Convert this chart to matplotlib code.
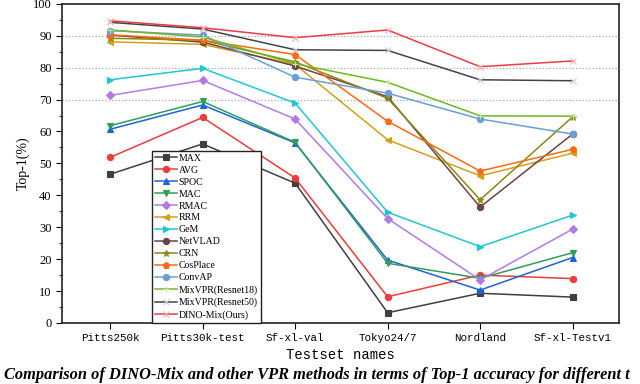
import numpy as np
import matplotlib
matplotlib.use('Agg')
import matplotlib.pyplot as plt

# Testsets and Top-1 accuracy per method
testsets = ['Pitts250k', 'Pitts30k-test', 'Sf-xl-val', 'Tokyo24/7', 'Nordland', 'Sf-xl-Testv1']

max_vals = [46.6, 56.1, 43.8, 3.2, 9.3, 8.1]
avg_vals = [51.9, 64.4, 45.4, 8.2, 15.0, 13.9]
spoc_vals = [60.7, 68.3, 56.4, 19.7, 10.3, 20.5]
mac_vals = [61.8, 69.4, 56.6, 18.7, 14.0, 22.0]
rmac_vals = [71.3, 76.0, 63.9, 32.7, 13.5, 29.4]
rrm_vals = [88.1, 87.3, 81.0, 57.4, 46.1, 53.2]
gem_vals = [76.2, 79.8, 68.9, 34.7, 23.9, 33.8]
netvlad_vals = [90.2, 88.0, 80.5, 70.9, 36.3, 59.2]
crn_vals = [89.2, 88.6, 81.8, 70.4, 38.6, 64.6]
cosplace_vals = [90.3, 88.6, 84.1, 63.2, 47.6, 54.4]
convap_vals = [91.6, 90.2, 77.0, 72.0, 63.9, 59.2]
mixvpr18_vals = [91.8, 89.6, 81.2, 75.4, 64.9, 64.8]
mixvpr50_vals = [94.2, 92.1, 85.6, 85.4, 76.2, 75.9]
dinomix_vals = [94.7, 92.5, 89.4, 91.8, 80.3, 82.1]

methods = ['MAX', 'AVG', 'SPOC', 'MAC', 'RMAC', 'RRM', 'GeM', 'NetVLAD', 'CRN',
           'CosPlace', 'ConvAP', 'MixVPR(Resnet18)', 'MixVPR(Resnet50)', 'DINO-Mix(Ours)']
values = [max_vals, avg_vals, spoc_vals, mac_vals, rmac_vals, rrm_vals, gem_vals,
          netvlad_vals, crn_vals, cosplace_vals, convap_vals, mixvpr18_vals,
          mixvpr50_vals, dinomix_vals]
colors = ['#3f3f3f', '#ee3b3b', '#1f63d9', '#2e9e5b', '#b27ae6', '#d4a017', '#1ec8d2',
          '#6e4242', '#8a8a10', '#ff6a10', '#6a9fd6', '#6cba1c', '#444444', '#ec3c44']
markers = ['s', 'o', '^', 'v', 'D', '<', '>', 'o', '*', 'p', 'o', '+', 'x', 'x']
marker_edge = [None] * 11 + ['#c8e6a0', '#cfcfcf', '#f4b0b4']

plt.rcParams['font.family'] = ['Liberation Serif', 'DejaVu Sans']

fig = plt.figure(figsize=(6.4, 3.84), dpi=100)
ax = fig.add_axes([0.097, 0.159, 0.870, 0.831])

x = np.arange(len(testsets))
for name, vals, c, m, me in zip(methods, values, colors, markers, marker_edge):
    ax.plot(x, vals, color=c, marker=m, markersize=4.5, linewidth=1.1,
            markeredgecolor=me if me else c, markerfacecolor=me if me else c,
            markeredgewidth=0.8, label=name)

for g in [70, 80, 90]:
    ax.axhline(g, color='#aaaaaa', linestyle=':', linewidth=0.9, zorder=0)

ax.set_xlim(-0.52, 5.5)
ax.set_ylim(0, 100)
ax.set_xticks(x)
ax.set_xticklabels(testsets, family='Liberation Mono', fontsize=7.8)
ax.set_yticks(np.arange(0, 101, 10))
ax.set_yticks(np.arange(0, 101, 5), minor=True)
ax.tick_params(axis='y', which='major', direction='out', length=4, labelsize=9)
ax.tick_params(axis='y', which='minor', direction='out', length=2)
ax.tick_params(axis='x', direction='out', length=4, pad=3)
for s in ax.spines.values():
    s.set_linewidth(1.2)
    s.set_color('#222222')

ax.set_xlabel('Testset names', family='Liberation Mono', fontsize=10, labelpad=4)
ax.set_ylabel('Top-1(%)', fontsize=10, labelpad=2)

leg = ax.legend(loc='lower left', bbox_to_anchor=(0.1616, 0.0), borderaxespad=0,
                fontsize=7.1, fancybox=False, framealpha=1, edgecolor='#222222',
                labelspacing=0.3, handlelength=2.2, handletextpad=0.2,
                borderpad=0.3)
leg.get_frame().set_linewidth(1.0)

fig.text(0.006, 0.045, 'Comparison of DINO-Mix and other VPR methods in terms of Top-1 accuracy for different t',
         fontsize=11.8, fontweight='bold', fontstyle='italic', va='top', ha='left')

fig.savefig('out.png', dpi=100)
